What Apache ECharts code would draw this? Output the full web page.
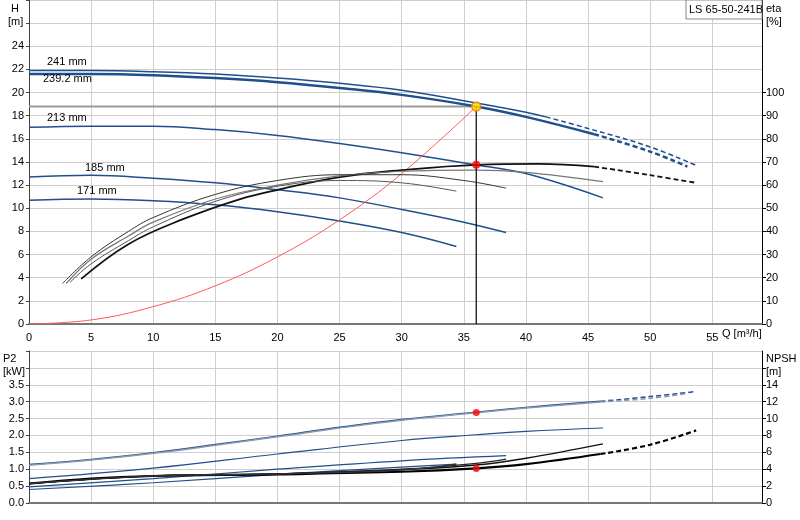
<!DOCTYPE html>
<html><head><meta charset="utf-8">
<script src="https://cdn.jsdelivr.net/npm/echarts@6/dist/echarts.min.js"></script>
<style>html,body{margin:0;padding:0;background:#fff}#c{width:800px;height:520px}</style>
</head><body><div id="c"></div>
<script>
// Head curves [Q, H m]
const h241 = [[0,21.9],[5,21.9],[10,21.8],[15,21.6],[20,21.25],[25,20.8],[30,20.2],[36,19.1],[40,18.3],[41.6,17.9]];
const h241d = [[41.6,17.9],[45,16.9],[50,15.3],[53.7,13.7]];
const h239 = [[0,21.6],[5,21.6],[10,21.5],[15,21.25],[20,20.9],[25,20.4],[30,19.8],[36,18.8],[40,17.9],[45.5,16.4]];
const h239d = [[45.5,16.4],[50,14.9],[53,13.6]];
const h213 = [[0,17.0],[5,17.1],[10,17.1],[15,16.8],[20,16.3],[25,15.6],[30,14.8],[36,13.75],[40,13.0],[46.2,10.9]];
const h185 = [[0,12.7],[5,12.85],[10,12.6],[15,12.2],[20,11.6],[25,10.9],[30,9.9],[35,8.8],[38.4,7.9]];
const h171 = [[0,10.7],[5,10.8],[10,10.65],[15,10.3],[20,9.7],[25,8.9],[30,7.9],[34.4,6.7]];
// System curve [Q, H m]
const sysCurve = [[0,0],[5,0.35],[10,1.5],[15,3.3],[20,5.8],[25,9.0],[30,13.0],[36,18.8]];
// Efficiency curves [Q, eta %]
const effMain = [[4.2,19.5],[8,34.5],[12.5,45.5],[17,54],[20,58],[25,63.5],[30,66.5],[36,68.8],[41,69.2],[45.5,68]];
const effMainD = [[45.5,68],[50,64.3],[53.7,61]];
const eff213 = [[3,17.5],[5,28],[8,38],[10,44],[15,54],[20,60],[25,64],[30,66],[36,66.5],[40,65.5],[46.2,61.5]];
const eff185 = [[2.7,17.5],[5,29],[8,40],[10,46],[15,56],[20,62],[25,64.5],[30,64.5],[35,62],[38.4,58.7]];
const eff171 = [[3.3,18],[5,26],[8,36],[10,42],[15,53],[20,59.5],[25,62],[30,61],[34.4,57.4]];
// Power P2 [Q, kW]
const p241 = [[0,1.14],[5,1.29],[10,1.49],[15,1.73],[20,1.98],[25,2.24],[30,2.47],[36,2.69],[40,2.83],[46,3.01]];
const p241d = [[46,3.01],[50,3.15],[53.7,3.3]];
const p239 = [[0,1.12],[5,1.27],[10,1.47],[15,1.71],[20,1.96],[25,2.22],[30,2.45],[36,2.67],[40,2.81],[46,2.99]];
const p239d = [[46,2.99],[50,3.1],[53,3.24]];
const p213 = [[0,0.72],[10,1.03],[20,1.45],[30,1.85],[36,2.02],[40,2.12],[46.2,2.22]];
const p185 = [[0,0.48],[10,0.72],[20,1.0],[30,1.25],[38.4,1.4]];
const p171 = [[0,0.40],[10,0.60],[20,0.85],[30,1.06],[34.4,1.15]];
// NPSH [Q, m]
const npshMain = [[0,2.3],[5,2.9],[10,3.2],[20,3.4],[30,3.7],[36,4.1],[40,4.6],[46,5.8]];
const npshMainD = [[46,5.8],[50,6.9],[53.7,8.6]];
const npsh213 = [[0,2.3],[10,3.2],[20,3.45],[30,3.95],[36,4.5],[40,5.3],[46.2,7.0]];
const npsh185 = [[0,2.3],[10,3.2],[20,3.45],[30,4.0],[36,4.7],[38.4,5.2]];
const npsh171 = [[0,2.3],[10,3.2],[20,3.45],[30,3.9],[34.4,4.6]];
const duty = {q:36, h:18.8, eta:68.8, p2:2.68, npsh:4.1};
const xTicks = [0,5,10,15,20,25,30,35,40,45,50,55];
const etaTicks = [0,10,20,30,40,50,60,70,80,90,100];
const npshTicks = [0,2,4,6,8,10,12,14,16];

const blue = '#1f4f8c';
const grid = {lineStyle:{color:'#cfcfcf'}};
function L(data, x, y, color, w, dashed, z){
  return {type:'line', xAxisIndex:x, yAxisIndex:y, data, smooth:0.4, symbol:'none', silent:true,
    lineStyle:{color, width:w, type: dashed ? [5,3] : 'solid'}, z: z||2};
}
const chart = echarts.init(document.getElementById('c'));
const f = 'Arial, Liberation Sans, sans-serif';
chart.setOption({
  animation:false,
  textStyle:{fontFamily:f},
  grid:[{left:29,right:38,top:0,height:324},{left:29,right:38,top:351,height:152}],
  xAxis:[
    {gridIndex:0,type:'value',min:0,max:59,interval:5,splitLine:grid,
     axisLine:{lineStyle:{color:'#777',width:2}},axisTick:{show:false},
     axisLabel:{color:'#000',fontSize:11,formatter:v=>xTicks.includes(v)?v:''}},
    {gridIndex:1,type:'value',min:0,max:59,interval:5,splitLine:grid,
     axisLine:{lineStyle:{color:'#777',width:2}},axisTick:{show:false},axisLabel:{show:false}}
  ],
  yAxis:[
    {gridIndex:0,type:'value',min:0,max:28,interval:2,splitLine:grid,
     axisLine:{show:true,lineStyle:{color:'#444'}},axisTick:{show:true,length:3,lineStyle:{color:'#444'}},
     axisLabel:{color:'#000',fontSize:11,margin:5,formatter:v=>v<=24?v:''}},
    {gridIndex:0,type:'value',min:0,max:140,interval:10,position:'right',splitLine:{show:false},
     axisLine:{show:true,lineStyle:{color:'#000'}},axisTick:{show:true,length:4,customValues:etaTicks,lineStyle:{color:'#000'}},
     axisLabel:{color:'#000',fontSize:11,margin:4,customValues:etaTicks}},
    {gridIndex:1,type:'value',min:0,max:4.5,interval:0.5,splitLine:grid,
     axisLine:{show:true,lineStyle:{color:'#444'}},axisTick:{show:true,length:3,lineStyle:{color:'#444'}},
     axisLabel:{color:'#000',fontSize:11,margin:5,formatter:v=>v<=3.5?v.toFixed(1):''}},
    {gridIndex:1,type:'value',min:0,max:18,interval:2,position:'right',splitLine:{show:false},
     axisLine:{show:true,lineStyle:{color:'#000'}},axisTick:{show:true,length:4,customValues:npshTicks,lineStyle:{color:'#000'}},
     axisLabel:{color:'#000',fontSize:11,margin:4,formatter:v=>v<=14?v:''}}
  ],
  series:[
    L([[0,duty.h],[duty.q,duty.h]],0,0,'#999',2,false,1),
    L([[duty.q,0],[duty.q,duty.h]],0,0,'#000',1.2,false,5),
    L(h241,0,0,blue,1.5), L(h241d,0,0,blue,1.5,true),
    L(h239,0,0,blue,2.5), L(h239d,0,0,blue,2.5,true),
    L(h213,0,0,blue,1.5), L(h185,0,0,blue,1.5), L(h171,0,0,blue,1.5),
    L(sysCurve,0,0,'#ff5a5a',1),
    L(effMain,0,1,'#111',1.8), L(effMainD,0,1,'#111',1.8,true),
    L(eff213,0,1,'#777',1.2), L(eff185,0,1,'#333',1), L(eff171,0,1,'#555',1),
    L(p241,1,2,blue,1.5), L(p241d,1,2,blue,1.5,true),
    L(p239,1,2,'#8a9ab0',1.5), L(p239d,1,2,'#8a9ab0',1.5,true),
    L(p213,1,2,blue,1.2), L(p185,1,2,blue,1.2), L(p171,1,2,blue,1.2),
    L(npshMain,1,3,'#000',2.2), L(npshMainD,1,3,'#000',2.2,true),
    L(npsh213,1,3,'#111',1.3), L(npsh185,1,3,'#222',1.2), L(npsh171,1,3,'#333',1.2),
    {type:'scatter',xAxisIndex:0,yAxisIndex:0,data:[[duty.q,duty.h]],symbolSize:9,z:10,
     itemStyle:{color:'#ffe600',borderColor:'#ff7a00',borderWidth:1.5}},
    {type:'scatter',xAxisIndex:0,yAxisIndex:1,data:[[duty.q,duty.eta]],symbolSize:8,z:10,itemStyle:{color:'#ff0000'}},
    {type:'scatter',xAxisIndex:1,yAxisIndex:2,data:[[duty.q,duty.p2]],symbolSize:7,z:10,itemStyle:{color:'#ff0000'}},
    {type:'scatter',xAxisIndex:1,yAxisIndex:3,data:[[duty.q,duty.npsh]],symbolSize:7,z:10,itemStyle:{color:'#ff0000'}}
  ],
  graphic:[
    {type:'text',left:8,top:2,style:{text:' H\n[m]',fontSize:11,lineHeight:13,fill:'#000',fontFamily:f}},
    {type:'text',left:766,top:2,style:{text:'eta\n[%]',fontSize:11,lineHeight:13,fill:'#000',fontFamily:f}},
    {type:'text',left:3,top:352,style:{text:'P2\n[kW]',fontSize:11,lineHeight:13,fill:'#000',fontFamily:f}},
    {type:'text',left:766,top:352,style:{text:'NPSH\n[m]',fontSize:11,lineHeight:13,fill:'#000',fontFamily:f}},
    {type:'text',left:722,top:328,style:{text:'Q [m³/h]',fontSize:11,fill:'#000',fontFamily:f}},
    {type:'rect',shape:{x:686,y:0,width:76,height:19},style:{fill:'#fff',stroke:'#888',lineWidth:1},z:20},
    {type:'text',left:689,top:4,style:{text:'LS 65-50-241B',fontSize:11,fill:'#000',fontFamily:f},z:21},
    {type:'text',left:47,top:56,style:{text:'241 mm',fontSize:11,fill:'#000',fontFamily:f},z:21},
    {type:'text',left:43,top:73,style:{text:'239.2 mm',fontSize:11,fill:'#000',fontFamily:f},z:21},
    {type:'text',left:47,top:112,style:{text:'213 mm',fontSize:11,fill:'#000',fontFamily:f},z:21},
    {type:'text',left:85,top:162,style:{text:'185 mm',fontSize:11,fill:'#000',fontFamily:f},z:21},
    {type:'text',left:77,top:185,style:{text:'171 mm',fontSize:11,fill:'#000',fontFamily:f},z:21}
  ]
});
</script></body></html>
